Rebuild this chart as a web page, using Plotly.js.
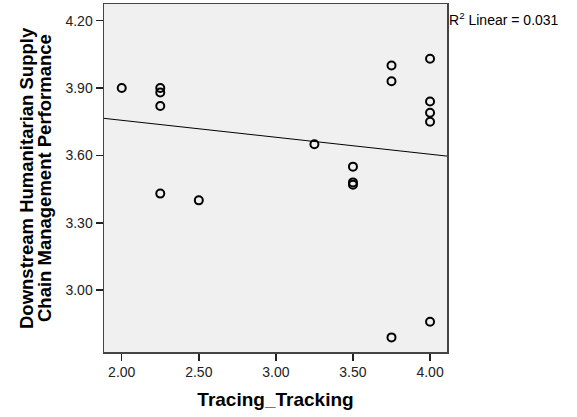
<!DOCTYPE html>
<html>
<head>
<meta charset="utf-8">
<script src="https://cdn.plot.ly/plotly-3.0.1.min.js"></script>
<style>html,body{margin:0;padding:0;background:#fff;}#chart{width:577px;height:417px;}</style>
</head>
<body>
<div id="chart"></div>
<script>
// Observed points (Tracing_Tracking vs Downstream HSCM Performance)
var tracingTracking = [2.00, 2.25, 2.25, 2.25, 2.25, 2.50, 3.25, 3.50, 3.50, 3.50, 3.75, 3.75, 3.75, 4.00, 4.00, 4.00, 4.00, 4.00];
var performance     = [3.90, 3.90, 3.88, 3.82, 3.43, 3.40, 3.65, 3.55, 3.48, 3.47, 4.00, 3.93, 2.79, 4.03, 3.84, 3.79, 3.75, 2.86];
// Fit line endpoints (R2 linear = 0.031)
var fitX = [1.885, 4.11];
var fitY = [3.765, 3.597];
var xTicks = [2.0, 2.5, 3.0, 3.5, 4.0];
var yTicks = [3.0, 3.3, 3.6, 3.9, 4.2];
var r2Label = 'R<sup>2</sup> Linear = 0.031';
var xTitle = 'Tracing_Tracking';
var yTitleLines = ['Downstream Humanitarian Supply', 'Chain Management Performance'];

var FONT = 'Liberation Sans, Arial, sans-serif';

var traces = [
  {
    x: fitX, y: fitY, type: 'scatter', mode: 'lines',
    line: {color: '#000', width: 1}, hoverinfo: 'skip', showlegend: false
  },
  {
    x: tracingTracking, y: performance, type: 'scatter', mode: 'markers',
    marker: {symbol: 'circle-open', size: 8, color: '#000', line: {width: 2, color: '#000'}},
    showlegend: false
  }
];

var layout = {
  width: 577, height: 417,
  margin: {l: 104, r: 130, t: 4, b: 65},
  paper_bgcolor: '#fff',
  plot_bgcolor: '#f0f0f0',
  font: {family: FONT, size: 14, color: '#000'},
  showlegend: false,
  xaxis: {
    range: [1.885, 4.11],
    tickvals: xTicks, tickformat: '.2f',
    ticks: 'outside', ticklen: 7, tickwidth: 1.5, tickcolor: '#222',
    showgrid: false, zeroline: false,
    showline: true, linecolor: '#444', linewidth: 1.5, mirror: true,
    tickfont: {family: FONT, size: 14, color: '#222'},
    title: {text: '<b>' + xTitle + '</b>', font: {family: FONT, size: 19, color: '#000'}, standoff: 13}
  },
  yaxis: {
    range: [2.725, 4.274],
    tickvals: yTicks, tickformat: '.2f',
    ticks: 'outside', ticklen: 7, tickwidth: 1.5, tickcolor: '#222',
    showgrid: false, zeroline: false,
    showline: true, linecolor: '#444', linewidth: 1.5, mirror: true,
    tickfont: {family: FONT, size: 14, color: '#222'}
  },
  annotations: [
    {
      text: r2Label, xref: 'paper', yref: 'paper', x: 1, y: 1,
      xanchor: 'left', yanchor: 'top', xshift: 0, yshift: -4, showarrow: false,
      font: {family: FONT, size: 14, color: '#000'}
    },
    {
      text: '<b>' + yTitleLines[0] + '</b>', xref: 'paper', yref: 'paper',
      x: (26 - 104) / 343, y: 0.5, xanchor: 'center', yanchor: 'middle',
      textangle: -90, showarrow: false, font: {family: FONT, size: 18.5, color: '#000'}
    },
    {
      text: '<b>' + yTitleLines[1] + '</b>', xref: 'paper', yref: 'paper',
      x: (44 - 104) / 343, y: 0.5, xanchor: 'center', yanchor: 'middle',
      textangle: -90, showarrow: false, font: {family: FONT, size: 18.5, color: '#000'}
    }
  ]
};

Plotly.newPlot('chart', traces, layout, {displayModeBar: false, staticPlot: true});
</script>
</body>
</html>
